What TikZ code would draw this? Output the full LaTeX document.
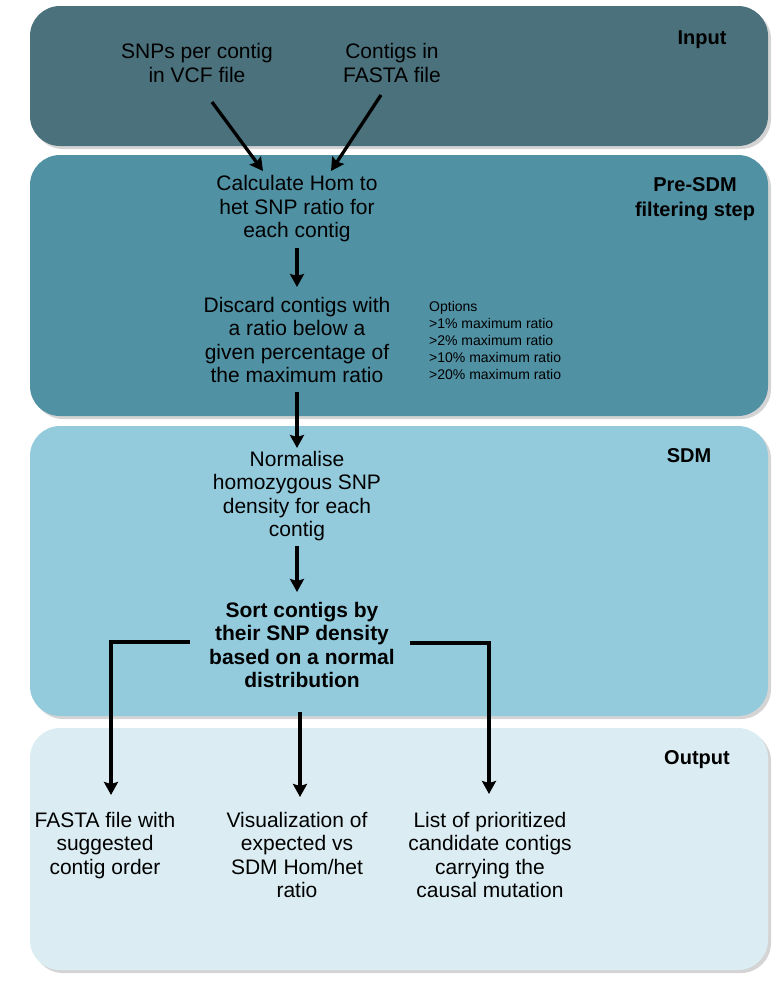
\documentclass[tikz,border=0pt]{standalone}
\usepackage{fontspec}
\setmainfont{Liberation Sans}
\usetikzlibrary{arrows.meta}
\definecolor{cinput}{RGB}{74,113,124}
\definecolor{cpre}{RGB}{81,145,164}
\definecolor{csdm}{RGB}{147,203,221}
\definecolor{cout}{RGB}{219,237,243}
\definecolor{cshadow}{RGB}{170,170,170}
\tikzset{
  band/.style={rounded corners=30pt},
  txt/.style={align=center,font=\fontsize{21}{23.5}\selectfont,inner sep=0pt},
  btxt/.style={align=center,font=\fontsize{21}{23.5}\selectfont\bfseries,inner sep=0pt},
  ttl/.style={align=center,font=\fontsize{20}{25}\selectfont\bfseries,inner sep=0pt},
  opt/.style={align=left,font=\fontsize{14}{17}\selectfont,inner sep=0pt,anchor=north west},
  arr/.style={line width=3.3pt,-{Stealth[length=13pt,width=14pt,inset=2pt]}},
  seg/.style={line width=3.3pt}
}
\begin{document}
\begin{tikzpicture}[x=1pt,y=-1pt]
\useasboundingbox (0,0) rectangle (782,986);
% shadows
\fill[cshadow,opacity=0.5,band] (33,9) rectangle (771,149);
\fill[cshadow,opacity=0.5,band] (33,158) rectangle (771,419);
\fill[cshadow,opacity=0.5,band] (33,429) rectangle (771,719);
\fill[cshadow,opacity=0.5,band] (33,731) rectangle (771,973);
% bands
\fill[cinput,band] (30,6) rectangle (768,146);
\fill[cpre,band] (30,155) rectangle (768,416);
\fill[csdm,band] (30,426) rectangle (768,716);
\fill[cout,band] (30,728) rectangle (768,970);
% titles
\node[ttl] (tin) at (702,40) {Input};
\node[ttl] (tpre) at (695,199) {Pre-SDM\\filtering step};
\node[ttl] (tsdm) at (689,456) {SDM};
\node[ttl] (tout) at (697,760) {Output};
% input texts
\node[txt] (snp) at (197,63) {SNPs per contig\\in VCF file};
\node[txt] (fasta) at (392,63) {Contigs in\\FASTA file};
% pre-SDM
\node[txt] (calc) at (297,209) {Calculate Hom to\\het SNP ratio for\\each contig};
\node[txt] (disc) at (297,340) {Discard contigs with\\a ratio below a\\given percentage of\\the maximum ratio};
\node[opt] (opts) at (429,301) {Options\\>1\% maximum ratio\\>2\% maximum ratio\\>10\% maximum ratio\\>20\% maximum ratio};
% SDM
\node[txt] (norm) at (297,496) {Normalise\\homozygous SNP\\density for each\\contig};
\node[btxt] (sort) at (302,645) {Sort contigs by\\their SNP density\\based on a normal\\distribution};
% output
\node[txt,anchor=north] (o1) at (105,812) {FASTA file with\\suggested\\contig order};
\node[txt,anchor=north] (o2) at (297,812) {Visualization of\\expected vs\\SDM Hom/het\\ratio};
\node[txt,anchor=north] (o3) at (490,812) {List of prioritized\\candidate contigs\\carrying the\\causal mutation};
% connector coordinates
\coordinate (a1s) at (212,102);
\coordinate (a1e) at (263,171);
\coordinate (a2s) at (381,95);
\coordinate (a2e) at (331,171);
\coordinate (lk) at (111,642);
\coordinate (rk) at (489,643);
\coordinate (ls) at (190,642);
\coordinate (rs) at (410,643);
\coordinate (ms) at (300,712);
% connectors
\draw[arr] (a1s) -- (a1e);
\draw[arr] (a2s) -- (a2e);
\draw[arr] (297,248) -- (297,287);
\draw[arr] (297,392) -- (297,448);
\draw[arr] (297,546) -- (297,592);
\draw[seg,line join=miter] (ls) -- (lk) -- ++(0,100);
\draw[arr] (lk) ++(0,95) -- ++(0,58);
\draw[seg,line join=miter] (rs) -- (rk) -- ++(0,100);
\draw[arr] (rk) ++(0,95) -- ++(0,56);
\draw[arr] (ms) -- ++(0,85);
\end{tikzpicture}
\end{document}
